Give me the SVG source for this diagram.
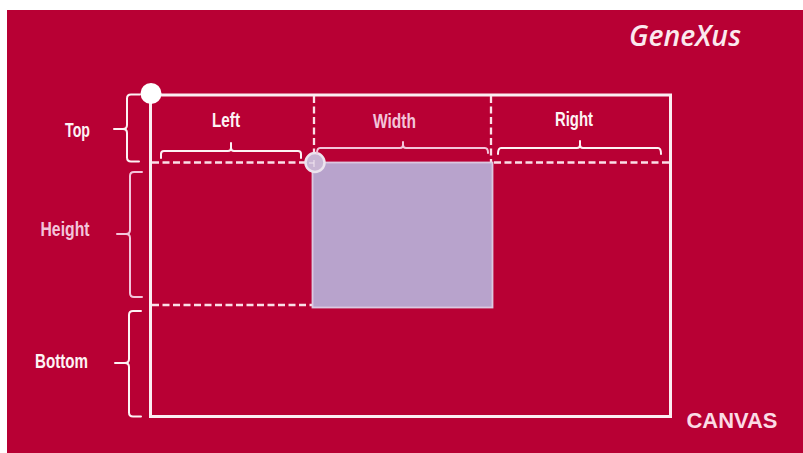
<svg xmlns="http://www.w3.org/2000/svg" width="803" height="453" viewBox="0 0 803 453">
<style>
text{font-family:"Liberation Sans",Arial,sans-serif;font-weight:700;text-anchor:middle}
.l{font-size:19.500px;fill:#fdf3f5}
.p{font-size:19.500px;fill:#f3c4da}
.b{fill:none;stroke:#fdf3f5;stroke-width:2;stroke-linecap:round;stroke-linejoin:round}
.bp{fill:none;stroke:#f3c4da;stroke-width:2;stroke-linecap:round;stroke-linejoin:round}
.d{fill:none;stroke:#fbdfe7;stroke-width:2.300;stroke-dasharray:7 3.500}
</style>
<rect width="803" height="453" fill="#ffffff"/>
<rect x="7" y="10" width="796" height="443" fill="#b80034"/>
<g id="logo"><text x="685" y="46" font-size="28" fill="#fbe9ee" style="font-family:'Open Sans','Liberation Sans',sans-serif;font-style:italic;font-weight:600" textLength="112" lengthAdjust="spacingAndGlyphs">GeneXus</text></g>
<g id="canvas">
<rect x="150.500" y="95" width="520" height="321.500" fill="none" stroke="#fbeef2" stroke-width="3"/>
<text x="732" y="428" font-size="21.500" fill="#fbdbe5" textLength="91" lengthAdjust="spacingAndGlyphs">CANVAS</text>
</g>
<g id="connectors">
<path class="d" d="M152 162.500H312M494 162.500H670"/>
<path class="d" d="M152 305H312"/>
<path class="d" d="M314 96V155M491 96V162"/>
</g>
<g id="box"><rect x="312.500" y="162.500" width="180" height="145" fill="#b8a3cc" stroke="#dcc8e0" stroke-width="1.800"/></g>
<g id="origin-canvas"><circle cx="151" cy="93.500" r="10.500" fill="#ffffff"/></g>
<g id="origin-box"><circle cx="315" cy="162.500" r="9.500" fill="#c9b6d4" stroke="#ece4ee" stroke-width="2.500"/>
<path d="M309 163H314M314 160V167" stroke="#f3e6f0" stroke-width="1" fill="none"/></g>
<g id="top"><text x="77.500" y="137" class="l" textLength="25" lengthAdjust="spacingAndGlyphs">Top</text>
<path class="b" d="M140 94.500H131Q127 94.500 127 98.500V125Q127 129 123 129H114M123 129Q127 129 127 133V157.500Q127 161.500 131 161.500H139"/></g>
<g id="height"><text x="65" y="236" class="p" textLength="49" lengthAdjust="spacingAndGlyphs">Height</text>
<path class="bp" d="M142 172H134Q130 172 130 176V230Q130 234 126 234H117M126 234Q130 234 130 238V293Q130 297 134 297H142"/></g>
<g id="bottom"><text x="61.500" y="368" class="l" textLength="53" lengthAdjust="spacingAndGlyphs">Bottom</text>
<path class="b" d="M141 311H133Q129 311 129 315V359Q129 363 125 363H115M125 363Q129 363 129 367V412.500Q129 416.500 133 416.500H141"/></g>
<g id="left"><text x="226" y="127" class="l" textLength="28" lengthAdjust="spacingAndGlyphs">Left</text>
<path class="b" d="M161 158V154Q161 151 164 151H228Q231 151 231 148V143M231 148Q231 151 234 151H298Q301 151 301 154V158"/></g>
<g id="width"><text x="394.500" y="128" class="p" textLength="43" lengthAdjust="spacingAndGlyphs">Width</text>
<path class="bp" d="M317 153Q317 148 320 148H400Q403 148 403 145V142M403 145Q403 148 406 148H485Q488 148 488 153"/></g>
<g id="right"><text x="574" y="126" class="l" textLength="38" lengthAdjust="spacingAndGlyphs">Right</text>
<path class="b" d="M498 154Q498 148 501 148H577Q580 148 580 145V141M580 145Q580 148 583 148H658Q661 148 661 154"/></g>
</svg>
